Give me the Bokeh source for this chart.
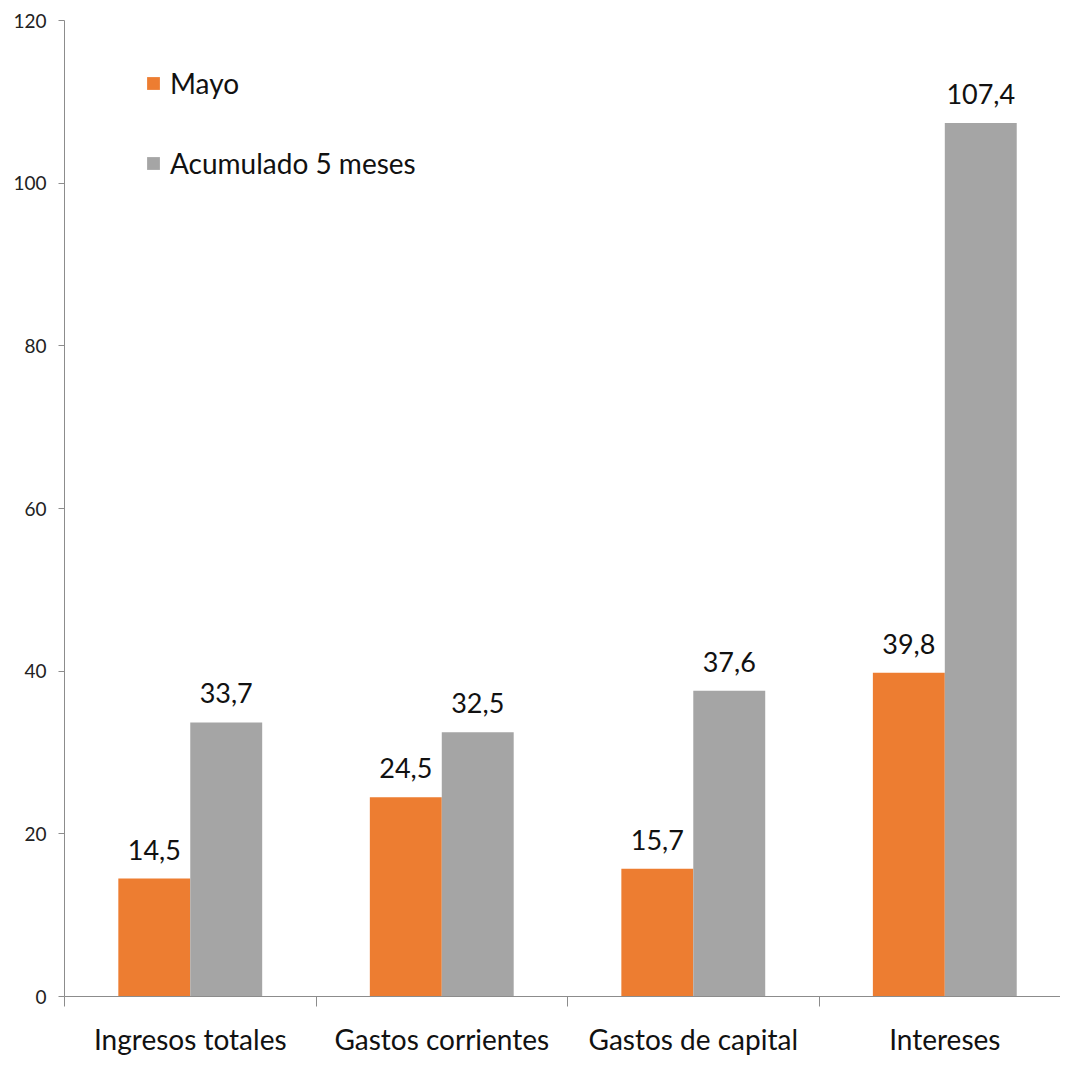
from bokeh.plotting import figure
from bokeh.models import Range1d, FixedTicker, ColumnDataSource, Legend, LegendItem
from bokeh.core.properties import value
from bokeh.embed import file_html
from bokeh.resources import INLINE
import numpy as np

categories = ["Ingresos totales", "Gastos corrientes", "Gastos de capital", "Intereses"]
mayo = [14.5, 24.5, 15.7, 39.8]
acumulado = [33.7, 32.5, 37.6, 107.4]
series_names = ["Mayo", "Acumulado 5 meses"]
y_ticks = [0, 20, 40, 60, 80, 100, 120]

ORANGE = "#ED7D31"
GRAY = "#A5A5A5"
AXIS = "#8C8C8C"
FONT = "Lato"

idx = np.arange(len(categories))
bw = 0.286
src_m = ColumnDataSource(dict(x=idx + 0.5 - bw / 2, top=mayo,
                              lab=[f"{v:.1f}".replace(".", ",") for v in mayo]))
src_a = ColumnDataSource(dict(x=idx + 0.5 + bw / 2, top=acumulado,
                              lab=[f"{v:.1f}".replace(".", ",") for v in acumulado]))

p = figure(width=1060, height=1058, output_backend="svg", toolbar_location=None,
           x_range=Range1d(0, 3.96), y_range=Range1d(0, 120),
           min_border_left=64, min_border_top=20, min_border_right=0, min_border_bottom=60)
p.outline_line_color = None
p.grid.grid_line_color = None
p.background_fill_color = "white"

rm = p.vbar(x="x", top="top", width=bw, source=src_m, fill_color=ORANGE, line_color=None)
ra = p.vbar(x="x", top="top", width=bw, source=src_a, fill_color=GRAY, line_color=None)

for s in (src_m, src_a):
    p.text(x="x", y="top", text="lab", source=s, text_align="center", text_baseline="bottom",
           y_offset=-19, text_font=value(FONT), text_font_size="27px", text_color="#111111")

# x axis
xa = p.xaxis[0]
xa.ticker = FixedTicker(ticks=list(idx + 0.5), minor_ticks=list(idx.astype(float)) + [float(len(categories))])
xa.major_label_overrides = {float(i + 0.5): c for i, c in enumerate(categories)}
xa.major_tick_out = 0
xa.major_tick_in = 0
xa.minor_tick_out = 10
xa.minor_tick_in = 0
xa.minor_tick_line_color = AXIS
xa.axis_line_color = AXIS
xa.major_label_text_font = FONT
xa.major_label_text_font_size = "28px"
xa.major_label_text_color = "#111111"
xa.major_label_standoff = 15

ya = p.yaxis[0]
ya.ticker = FixedTicker(ticks=y_ticks, minor_ticks=[])
ya.major_tick_out = 6
ya.major_tick_in = 0
ya.major_tick_line_color = AXIS
ya.axis_line_color = AXIS
ya.major_label_text_font = FONT
ya.major_label_text_font_size = "19px"
ya.major_label_text_color = "#222222"
ya.major_label_standoff = 12

legend = Legend(items=[LegendItem(label=series_names[0], renderers=[rm]),
                       LegendItem(label=series_names[1], renderers=[ra])],
                location=(81, 816))
legend.border_line_color = None
legend.background_fill_alpha = 0
legend.glyph_width = 16
legend.glyph_height = 16
legend.label_text_font = FONT
legend.label_text_font_size = "28px"
legend.label_text_color = "#111111"
legend.label_standoff = 9
legend.spacing = 46
legend.padding = 0
legend.margin = 0
p.add_layout(legend)

open("out.html", "w").write(file_html(p, INLINE))
